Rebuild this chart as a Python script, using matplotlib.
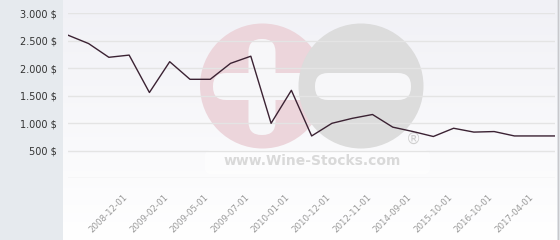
import numpy as np
import matplotlib
matplotlib.use("Agg")
import matplotlib.pyplot as plt
import matplotlib.transforms as mtransforms
from matplotlib.patches import Circle, FancyBboxPatch

# ---- data ----
categories = ["", "", "", "2008-12-01", "", "2009-02-01", "", "2009-05-01", "",
              "2009-07-01", "", "2010-01-01", "", "2010-12-01", "", "2012-11-01",
              "", "2014-09-01", "", "2015-10-01", "", "2016-10-01", "",
              "2017-04-01", ""]
prices = [2600, 2450, 2200, 2240, 1560, 2120, 1800, 1800, 2090, 2220, 1000,
          1600, 770, 1000, 1090, 1160, 930, 850, 760, 910, 840, 850, 770, 770, 770]
y_ticks = [500, 1000, 1500, 2000, 2500, 3000]
y_tick_labels = ["500 $", "1.000 $", "1.500 $", "2.000 $", "2.500 $", "3.000 $"]
grid_values = [0, 500, 1000, 1500, 2000, 2500, 3000]

W, H = 560, 240
fig = plt.figure(figsize=(W / 100, H / 100), dpi=100)
fig.patch.set_facecolor("#e6eaee")

# plot panel with vertical gradient background
bg = fig.add_axes([63 / W, 0, (557 - 63) / W, 1])
bg.set_axis_off()
grad = np.linspace(0, 1, 256).reshape(-1, 1)
top = np.array([0xf1, 0xf1, 0xf6]) / 255
bot = np.array([1.0, 1.0, 1.0])
img = top[None, None, :] * (1 - grad[:, :, None]) + bot[None, None, :] * grad[:, :, None]
bg.imshow(img, aspect="auto", extent=[0, 1, 0, 1])
bg.set_xlim(0, 1)
bg.set_ylim(0, 1)
fig.add_artist(plt.Line2D([557.5 / W, 557.5 / W], [0, 1], color="#c8c8cc", lw=1.0))

# watermark, in figure pixels (y measured from top)
wm = fig.add_axes([0, 0, 1, 1])
wm.set_xlim(0, W)
wm.set_ylim(0, H)
wm.set_axis_off()
wm.patch.set_alpha(0)


def rbox(x0, y0, w, h, r, color, alpha=1.0):
    wm.add_patch(FancyBboxPatch((x0, H - y0 - h), w, h,
                                boxstyle=f"round,pad=0,rounding_size={r}",
                                fc=color, ec="none", alpha=alpha))


rbox(205, 150, 225, 24, 6, "white", 0.6)
wm.add_patch(Circle((262.5, H - 86), 62.5, fc="#ecd5db", ec="none"))
rbox(248.5, 39, 27, 96, 13, "#f7f7f9")
rbox(213, 73, 100, 27, 13, "#f7f7f9")
wm.add_patch(Circle((361, H - 86), 62.5, fc="#dcdcdc", ec="none"))
rbox(315, 73, 96, 27, 13, "#f7f7f9")
wm.text(312, H - 161, "www.Wine-Stocks.com", ha="center", va="center", fontsize=10,
        fontweight="bold", color="#d9d9d9", family="DejaVu Sans")
wm.text(414, H - 139, "®", ha="center", va="center", fontsize=11, color="#cfcfcf")

# data axes
ax = fig.add_axes([68.3 / W, (H - 178.3) / H, (555 - 68.3) / W, (178.3 - 13.3) / H])
ax.patch.set_alpha(0)
x = np.arange(len(prices))
ax.set_xlim(0, len(prices) - 1)
ax.set_ylim(0, 3000)
for g in grid_values:
    ax.axhline(g, color="#e4e4e4", lw=1.0, zorder=1)
ax.plot(x, prices, color="#3b2233", lw=1.0, zorder=3)

ax.set_yticks(y_ticks)
ax.set_yticklabels(y_tick_labels, fontsize=7, color="#333333")
ax.tick_params(axis="y", length=0, pad=8)
label_idx = [i for i, c in enumerate(categories) if c]
ax.set_xticks(label_idx)
ax.set_xticklabels([categories[i] for i in label_idx], rotation=45, ha="right",
                   rotation_mode="anchor", fontsize=6.2, color="#999999")
ax.tick_params(axis="x", length=0, pad=10)
offset = mtransforms.ScaledTranslation(-6 / 100, 0, fig.dpi_scale_trans)
for lab in ax.get_xticklabels():
    lab.set_transform(lab.get_transform() + offset)
for s in ax.spines.values():
    s.set_visible(False)

fig.savefig("out.png", dpi=100, facecolor=fig.get_facecolor())
